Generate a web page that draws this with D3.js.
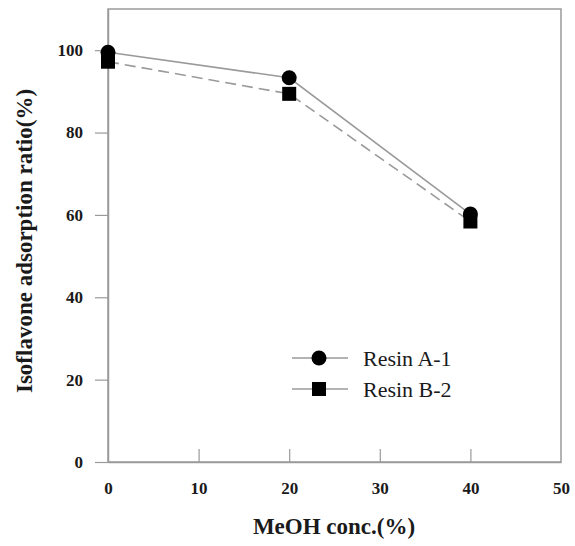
<!DOCTYPE html>
<html>
<head>
<meta charset="utf-8">
<script src="https://cdn.jsdelivr.net/npm/d3@7"></script>
<style>
  body { margin: 0; background: #fff; }
  text { font-family: "Liberation Serif", "Times New Roman", serif; fill: #1a1a1a; }
</style>
</head>
<body>
<div id="graphicContainer"></div>
<script>
// data
var methanol = [0, 20, 40];
var resinA1 = [99.5, 93.3, 60.2];
var resinB2 = [97.2, 89.4, 58.4];
var xTicks = [0, 10, 20, 30, 40, 50];
var yTicks = [0, 20, 40, 60, 80, 100];
var seriesNames = ["Resin A-1", "Resin B-2"];

var width = 575,
	height = 546,
	margin = {left: 108, right: 14, top: 9, bottom: 84},
	gray = "#9a9a9a";

var svg = d3.select("#graphicContainer")
	.append("svg")
	.attr("width", width)
	.attr("height", height);

var x = d3.scaleLinear().domain([0, 50]).range([margin.left, width - margin.right]),
	y = d3.scaleLinear().domain([0, 110]).range([height - margin.bottom, margin.top]);

// frame
svg.append("rect")
	.attr("x", x(0)).attr("y", y(110))
	.attr("width", x(50) - x(0)).attr("height", y(0) - y(110))
	.attr("fill", "none").attr("stroke", gray).attr("stroke-width", 1.5);

var xAxis = svg.append("g")
	.attr("transform", "translate(0," + y(0) + ")")
	.call(d3.axisBottom(x).tickValues(xTicks).tickSize(-13).tickSizeOuter(0).tickPadding(20));

var yAxis = svg.append("g")
	.attr("transform", "translate(" + x(0) + ",0)")
	.call(d3.axisLeft(y).tickValues(yTicks).tickSize(13).tickSizeOuter(0).tickPadding(12));

[xAxis, yAxis].forEach(function(a){
	a.select(".domain").attr("stroke", gray).attr("stroke-width", 1.5);
	a.selectAll(".tick line").attr("stroke", gray).attr("stroke-width", 1.2);
	a.selectAll(".tick text")
		.attr("font-size", "17px").attr("font-weight", "bold")
		.attr("font-family", "'Liberation Serif', 'Times New Roman', serif")
		.attr("fill", "#1a1a1a");
});
xAxis.selectAll(".tick").filter(function(d){ return d == 0 || d == 50 }).select("line").remove();
yAxis.selectAll(".tick").filter(function(d){ return d == 100 }).select("line").attr("x2", -13);

// axis titles
svg.append("text")
	.attr("x", 334).attr("y", 534)
	.attr("text-anchor", "middle")
	.attr("font-size", "23px").attr("font-weight", "bold")
	.text("MeOH conc.(%)");

svg.append("text")
	.attr("transform", "translate(32," + 241 + ") rotate(-90)")
	.attr("text-anchor", "middle")
	.attr("font-size", "23px").attr("font-weight", "bold")
	.text("Isoflavone adsorption ratio(%)");

var line = d3.line()
	.x(function(d){ return x(d[0]) })
	.y(function(d){ return y(d[1]) });

var ptsA = methanol.map(function(m, i){ return [m, resinA1[i]] }),
	ptsB = methanol.map(function(m, i){ return [m, resinB2[i]] });

svg.append("path").datum(ptsB)
	.attr("d", line).attr("fill", "none")
	.attr("stroke", gray).attr("stroke-width", 1.6)
	.attr("stroke-dasharray", "11,6");

svg.append("path").datum(ptsA)
	.attr("d", line).attr("fill", "none")
	.attr("stroke", gray).attr("stroke-width", 1.6);

svg.selectAll(".sq").data(ptsB).enter().append("rect")
	.attr("class", "sq")
	.attr("x", function(d){ return x(d[0]) - 7 })
	.attr("y", function(d){ return y(d[1]) - 7 })
	.attr("width", 14).attr("height", 14)
	.attr("fill", "#000");

svg.selectAll(".dot").data(ptsA).enter().append("circle")
	.attr("class", "dot")
	.attr("cx", function(d){ return x(d[0]) })
	.attr("cy", function(d){ return y(d[1]) })
	.attr("r", 7.5)
	.attr("fill", "#000");

// legend
var legend = svg.append("g").attr("transform", "translate(292,358)");
seriesNames.forEach(function(name, i){
	var row = legend.append("g").attr("transform", "translate(0," + (i * 31) + ")");
	row.append("line").attr("x1", 0).attr("x2", 56)
		.attr("stroke", gray).attr("stroke-width", 1.5);
	if (i == 0) {
		row.append("circle").attr("cx", 27).attr("cy", 0).attr("r", 7.5).attr("fill", "#000");
	} else {
		row.append("rect").attr("x", 20).attr("y", -7).attr("width", 14).attr("height", 14).attr("fill", "#000");
	}
	row.append("text").attr("x", 71).attr("y", 7.5)
		.attr("font-size", "22px")
		.text(name);
});
</script>
</body>
</html>
